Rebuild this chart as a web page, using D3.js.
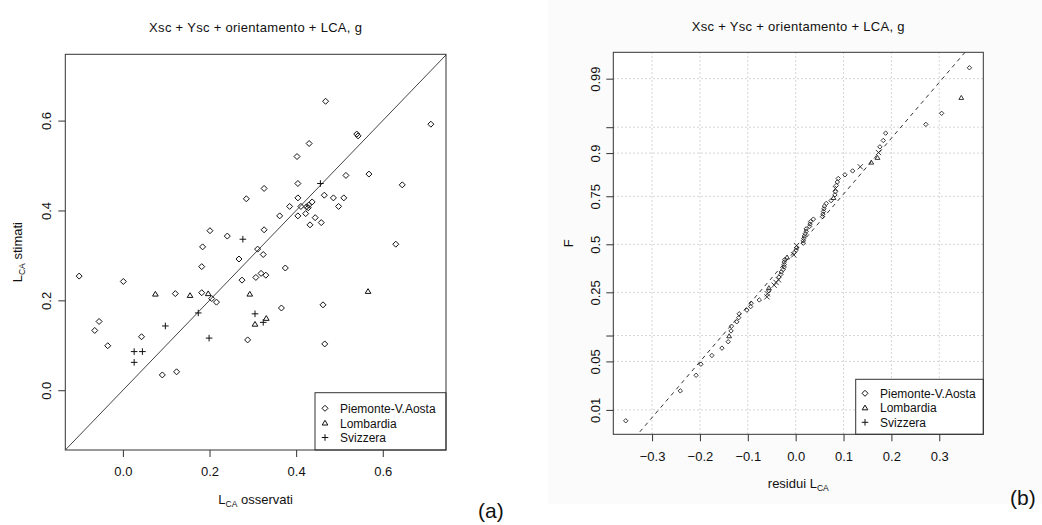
<!DOCTYPE html>
<html>
<head>
<meta charset="utf-8">
<script src="https://cdn.jsdelivr.net/npm/d3@7"></script>
<style>
  html, body { margin: 0; padding: 0; background: #fff; }
  svg { display: block; }
  text { font-family: "Liberation Sans", Arial, sans-serif; fill: #111; }
</style>
</head>
<body>
<svg id="chart" width="1042" height="525"></svg>
<script>
// L_CA observed vs estimated, by region
const pvaOss  = [0.468, 0.711, 0.540, 0.543, 0.430, 0.402, 0.515, 0.568, 0.404, 0.645,
                 0.326, 0.285, 0.404, 0.465, 0.486, 0.510, 0.498, 0.385, 0.411, 0.424,
                 0.429, 0.437, 0.428, 0.422, 0.404, 0.362, 0.444, 0.432, 0.458, 0.630,
                 0.201, 0.241, 0.326, 0.184, 0.311, 0.324, 0.268, -0.101, 0.001, 0.182,
                 0.275, 0.307, 0.319, 0.330, 0.375, 0.121, 0.182, 0.205, 0.216, -0.065,
                 -0.055, -0.035, 0.043, 0.091, 0.124, 0.288, 0.366, 0.462, 0.466];
const pvaStim = [0.643, 0.592, 0.570, 0.566, 0.549, 0.520, 0.478, 0.481, 0.460, 0.457,
                 0.449, 0.426, 0.428, 0.434, 0.428, 0.428, 0.409, 0.409, 0.409, 0.408,
                 0.412, 0.419, 0.406, 0.393, 0.388, 0.388, 0.384, 0.368, 0.373, 0.325,
                 0.355, 0.343, 0.357, 0.319, 0.314, 0.302, 0.292, 0.254, 0.242, 0.275,
                 0.245, 0.251, 0.260, 0.256, 0.272, 0.215, 0.217, 0.204, 0.196, 0.133,
                 0.153, 0.099, 0.119, 0.034, 0.041, 0.112, 0.183, 0.190, 0.103];
const lomOss  = [0.075, 0.155, 0.197, 0.293, 0.566, 0.305, 0.331];
const lomStim = [0.214, 0.211, 0.215, 0.214, 0.220, 0.147, 0.160];
const svzOss  = [0.456, 0.277, 0.174, 0.098, 0.199, 0.026, 0.045, 0.026, 0.305, 0.324];
const svzStim = [0.460, 0.336, 0.172, 0.143, 0.116, 0.086, 0.086, 0.062, 0.170, 0.151];

const regionNames = ["Piemonte-V.Aosta", "Lombardia", "Svizzera"];
const titleText = "Xsc + Ysc + orientamento + LCA, g";

// axis ticks
const ticksA = [0.0, 0.2, 0.4, 0.6];
const ticksResid = [-0.3, -0.2, -0.1, 0.0, 0.1, 0.2, 0.3];
const probTicks = [0.01, 0.05, 0.1, 0.25, 0.5, 0.75, 0.9, 0.95, 0.99];
const probLabels = ["0.01", "0.05", "", "0.25", "0.5", "0.75", "0.9", "", "0.99"];

// ---------- helpers ----------
// inverse standard normal CDF (Acklam)
function qnorm(p) {
  const a = [-3.969683028665376e+01, 2.209460984245205e+02, -2.759285104469687e+02,
             1.383577518672690e+02, -3.066479806614716e+01, 2.506628277459239e+00];
  const b = [-5.447609879822406e+01, 1.615858368580409e+02, -1.556989798598866e+02,
             6.680131188771972e+01, -1.328068155288572e+01];
  const c = [-7.784894002430293e-03, -3.223964580411365e-01, -2.400758277161838e+00,
             -2.549732539343734e+00, 4.374664141464968e+00, 2.938163982698783e+00];
  const d = [7.784695709041462e-03, 3.224671290700398e-01, 2.445134137142996e+00,
             3.754408661907416e+00];
  const pl = 0.02425, ph = 1 - pl;
  if (p < pl) {
    const q = Math.sqrt(-2 * Math.log(p));
    return (((((c[0]*q+c[1])*q+c[2])*q+c[3])*q+c[4])*q+c[5]) / ((((d[0]*q+d[1])*q+d[2])*q+d[3])*q+1);
  }
  if (p <= ph) {
    const q = p - 0.5, r = q * q;
    return (((((a[0]*r+a[1])*r+a[2])*r+a[3])*r+a[4])*r+a[5])*q / (((((b[0]*r+b[1])*r+b[2])*r+b[3])*r+b[4])*r+1);
  }
  const q = Math.sqrt(-2 * Math.log(1 - p));
  return -(((((c[0]*q+c[1])*q+c[2])*q+c[3])*q+c[4])*q+c[5]) / ((((d[0]*q+d[1])*q+d[2])*q+d[3])*q+1);
}

// outline point symbols
const shapes = {
  diamond: { draw(ctx, s) { ctx.moveTo(0, -s); ctx.lineTo(s, 0); ctx.lineTo(0, s); ctx.lineTo(-s, 0); ctx.closePath(); } },
  triangle: { draw(ctx, s) { ctx.moveTo(0, -s); ctx.lineTo(s * 1.05, s * 0.75); ctx.lineTo(-s * 1.05, s * 0.75); ctx.closePath(); } },
  plus: { draw(ctx, s) { ctx.moveTo(-s, 0); ctx.lineTo(s, 0); ctx.moveTo(0, -s); ctx.lineTo(0, s); } },
  cross: { draw(ctx, s) { ctx.moveTo(-s, -s); ctx.lineTo(s, s); ctx.moveTo(-s, s); ctx.lineTo(s, -s); } }
};
const sym = (type, s) => d3.symbol().type(shapes[type]).size(s)();

const groups = [
  { name: regionNames[0], oss: pvaOss, stim: pvaStim, shape: "diamond", qqShape: "diamond", s: 3.0, qs: 2.2 },
  { name: regionNames[1], oss: lomOss, stim: lomStim, shape: "triangle", qqShape: "triangle", s: 2.7, qs: 2.3 },
  { name: regionNames[2], oss: svzOss, stim: svzStim, shape: "plus", qqShape: "cross", s: 3.3, qs: 2.6 }
];

const svg = d3.select("#chart");
const ink = "#111";

function lowered(textSel, main, sub, rest) {
  textSel.append("tspan").text(main);
  textSel.append("tspan").attr("font-size", "8.5px").attr("dy", 3).text(sub);
  if (rest) textSel.append("tspan").attr("dy", -3).text(rest);
}

function legend(g, x0, y0, x1, y1, rowsY, symX, textX) {
  g.append("rect").attr("x", x0).attr("y", y0).attr("width", x1 - x0).attr("height", y1 - y0)
    .attr("fill", "#fff").attr("stroke", "#333").attr("stroke-width", 1);
  groups.forEach((gr, i) => {
    g.append("path").attr("transform", `translate(${symX},${rowsY[i]})`)
      .attr("d", sym(gr.shape, gr.s)).attr("fill", "none").attr("stroke", ink).attr("stroke-width", 1);
    g.append("text").attr("x", textX).attr("y", rowsY[i] + 4.5).attr("font-size", "12px").text(gr.name);
  });
}

// ================= (a) observed vs estimated =================
{
  const P = { x0: 65.3, x1: 446, y0: 54.3, y1: 450 };
  const x = d3.scaleLinear().domain([-0.133, 0.746]).range([P.x0, P.x1]);
  const y = d3.scaleLinear().domain([-0.133, 0.7475]).range([P.y1, P.y0]);
  const g = svg.append("g");

  g.append("clipPath").attr("id", "clipA").append("rect")
    .attr("x", P.x0).attr("y", P.y0).attr("width", P.x1 - P.x0).attr("height", P.y1 - P.y0);

  // bisector y = x
  g.append("line").attr("clip-path", "url(#clipA)")
    .attr("x1", x(-1)).attr("y1", y(-1)).attr("x2", x(1)).attr("y2", y(1))
    .attr("stroke", "#444").attr("stroke-width", 1);

  groups.forEach(gr => {
    g.append("g").selectAll("path").data(d3.zip(gr.oss, gr.stim)).join("path")
      .attr("transform", d => `translate(${x(d[0])},${y(d[1])})`)
      .attr("d", sym(gr.shape, gr.s))
      .attr("fill", "none").attr("stroke", ink).attr("stroke-width", 1);
  });

  // axes
  const ax = g.append("g").attr("transform", `translate(0,${P.y1})`)
    .call(d3.axisBottom(x).tickValues(ticksA).tickFormat(d3.format(".1f")).tickSize(7).tickPadding(8));
  const ay = g.append("g").attr("transform", `translate(${P.x0},0)`)
    .call(d3.axisLeft(y).tickValues(ticksA).tickFormat(d3.format(".1f")).tickSize(7));
  [ax, ay].forEach(a => {
    a.select(".domain").remove();
    a.selectAll("line").attr("stroke", "#333");
    a.selectAll("text").attr("font-size", "13px").attr("fill", ink)
      .attr("font-family", "'Liberation Sans', Arial, sans-serif");
  });
  ax.selectAll("text").attr("dy", "0.71em").attr("y", 17);
  ay.selectAll("text").attr("transform", "rotate(-90)").attr("x", 0).attr("y", -14.5)
    .attr("dy", 0).attr("text-anchor", "middle");

  legend(g, 315, 392.7, P.x1, P.y1, [408.3, 423, 437.5], 325, 340);

  g.append("rect").attr("x", P.x0).attr("y", P.y0).attr("width", P.x1 - P.x0).attr("height", P.y1 - P.y0)
    .attr("fill", "none").attr("stroke", "#333").attr("stroke-width", 1);

  g.append("text").attr("x", (P.x0 + P.x1) / 2).attr("y", 32).attr("text-anchor", "middle")
    .attr("font-size", "13px").attr("letter-spacing", "0.3px").text(titleText);
  const xl = g.append("text").attr("x", (P.x0 + P.x1) / 2).attr("y", 504).attr("text-anchor", "middle")
    .attr("font-size", "13px");
  lowered(xl, "L", "CA", " osservati");
  const yl = g.append("text").attr("transform", `translate(22,${(P.y0 + P.y1) / 2}) rotate(-90)`)
    .attr("text-anchor", "middle").attr("font-size", "13px");
  lowered(yl, "L", "CA", " stimati");

  g.append("text").attr("x", 478).attr("y", 518).attr("font-size", "21px")
    .attr("font-family", "'DejaVu Sans', Verdana, sans-serif").text("(a)");
}

// ================= (b) normal probability plot of residuals =================
{
  svg.append("rect").attr("x", 548).attr("y", 0).attr("width", 494).attr("height", 504).attr("fill", "#fbfbfb");

  const P = { x0: 613.3, x1: 983.3, y0: 52.3, y1: 434.3 };
  const x = d3.scaleLinear().domain([-0.381, 0.392]).range([P.x0, P.x1]);
  const z = d3.scaleLinear().domain([-2.669, 2.697]).range([P.y1, P.y0]);
  const g = svg.append("g");

  // residuals (observed - estimated) with normal plotting positions
  const pts = groups.flatMap(gr => gr.oss.map((o, i) => ({ r: o - gr.stim[i], gr })));
  pts.sort((a, b) => d3.ascending(a.r, b.r));
  const n = pts.length;
  pts.forEach((d, i) => { d.z = qnorm((i + 0.5) / n); });

  g.append("rect").attr("x", P.x0).attr("y", P.y0).attr("width", P.x1 - P.x0).attr("height", P.y1 - P.y0)
    .attr("fill", "#fff");

  // dotted grid
  const grid = g.append("g").attr("stroke", "#c8c8c8").attr("stroke-width", 1).attr("stroke-dasharray", "1.5,2.5");
  grid.selectAll("line.v").data(ticksResid).join("line").attr("class", "v")
    .attr("x1", d => x(d)).attr("x2", d => x(d)).attr("y1", P.y0).attr("y2", P.y1);
  grid.selectAll("line.h").data(probTicks).join("line").attr("class", "h")
    .attr("y1", d => z(qnorm(d))).attr("y2", d => z(qnorm(d))).attr("x1", P.x0).attr("x2", P.x1);

  g.append("clipPath").attr("id", "clipB").append("rect")
    .attr("x", P.x0).attr("y", P.y0).attr("width", P.x1 - P.x0).attr("height", P.y1 - P.y0);

  // fitted normal line: mean + sd * z
  const rs = pts.map(d => d.r);
  const mu = d3.mean(rs), sd = d3.deviation(rs);
  g.append("line").attr("clip-path", "url(#clipB)")
    .attr("x1", x(mu + sd * -4)).attr("y1", z(-4))
    .attr("x2", x(mu + sd * 4)).attr("y2", z(4))
    .attr("stroke", "#333").attr("stroke-width", 1).attr("stroke-dasharray", "4,4");

  g.append("g").selectAll("path").data(pts).join("path")
    .attr("transform", d => `translate(${x(d.r)},${z(d.z)})`)
    .attr("d", d => sym(d.gr.qqShape, d.gr.qs))
    .attr("fill", "none").attr("stroke", "#222").attr("stroke-width", 0.9);

  const ax = g.append("g").attr("transform", `translate(0,${P.y1})`)
    .call(d3.axisBottom(x).tickValues(ticksResid).tickFormat(d3.format(".1f")).tickSize(7));
  const ay = g.append("g").attr("transform", `translate(${P.x0},0)`)
    .call(d3.axisLeft(z).tickValues(probTicks.map(qnorm)).tickFormat((d, i) => probLabels[i]).tickSize(7));
  [ax, ay].forEach(a => {
    a.select(".domain").remove();
    a.selectAll("line").attr("stroke", "#333");
    a.selectAll("text").attr("font-size", "13px").attr("fill", ink)
      .attr("font-family", "'Liberation Sans', Arial, sans-serif");
  });
  ax.selectAll("text").attr("dy", "0.71em").attr("y", 17);
  ay.selectAll("text").attr("transform", "rotate(-90)").attr("x", 0).attr("y", -13.5)
    .attr("dy", 0).attr("text-anchor", "middle");

  legend(g, 855.7, 379.3, P.x1, P.y1, [393.3, 407.8, 422.3], 865, 880);

  g.append("rect").attr("x", P.x0).attr("y", P.y0).attr("width", P.x1 - P.x0).attr("height", P.y1 - P.y0)
    .attr("fill", "none").attr("stroke", "#333").attr("stroke-width", 1);

  g.append("text").attr("x", (P.x0 + P.x1) / 2).attr("y", 30.5).attr("text-anchor", "middle")
    .attr("font-size", "13px").attr("letter-spacing", "0.3px").text(titleText);
  const xl = g.append("text").attr("x", (P.x0 + P.x1) / 2).attr("y", 488).attr("text-anchor", "middle")
    .attr("font-size", "13px");
  lowered(xl, "residui L", "CA");
  g.append("text").attr("transform", `translate(572.5,${(P.y0 + P.y1) / 2}) rotate(-90)`)
    .attr("text-anchor", "middle").attr("font-size", "13px").text("F");

  g.append("text").attr("x", 1010).attr("y", 505).attr("font-size", "21px")
    .attr("font-family", "'DejaVu Sans', Verdana, sans-serif").text("(b)");
}
</script>
</body>
</html>
